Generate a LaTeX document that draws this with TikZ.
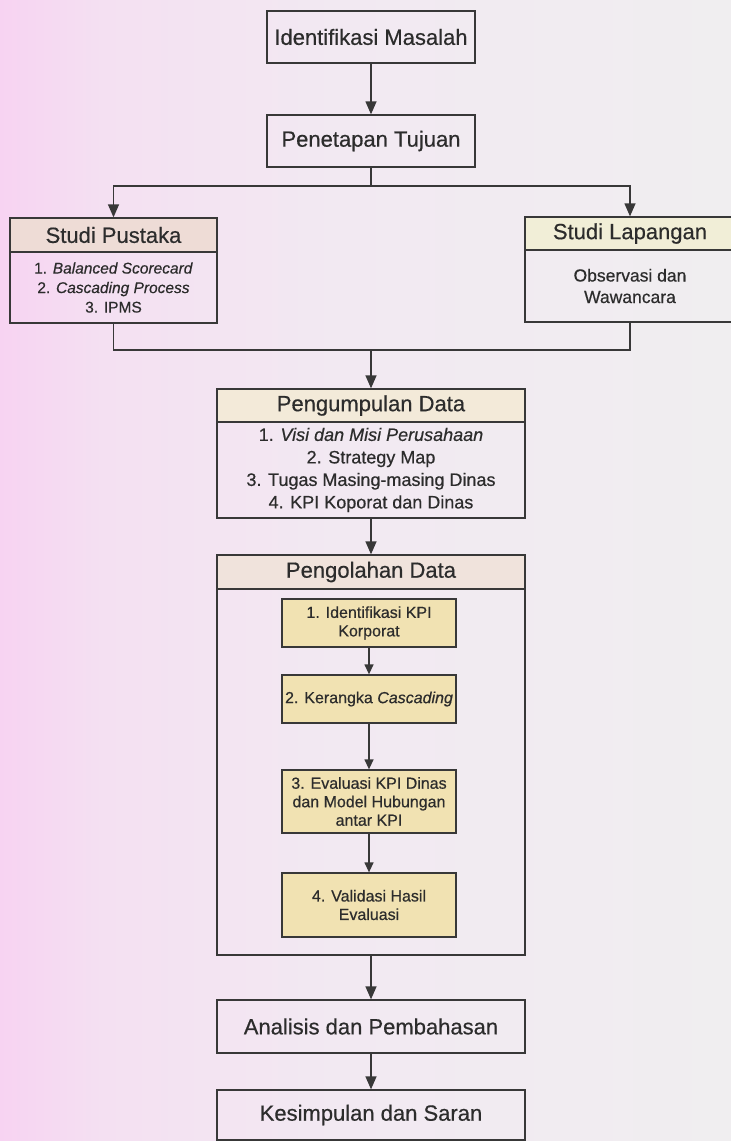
\documentclass[tikz,border=0pt]{standalone}
\usepackage{fontspec}
\setmainfont{Liberation Sans}[FakeBold=0.5]
\usetikzlibrary{arrows.meta}

% line and text colours
\definecolor{ink}{HTML}{383838}
\definecolor{txt}{HTML}{2C2C2C}
% page tint, left to right
\definecolor{bgA}{HTML}{F7D3F2}
\definecolor{bgB}{HTML}{F4E0F2}
\definecolor{bgC}{HTML}{F2E9F2}
\definecolor{bgD}{HTML}{F0EEF0}
% header and step fills
\definecolor{hdPink}{HTML}{EEDCD6}
\definecolor{hdCream}{HTML}{F1EED7}
\definecolor{hdBeige}{HTML}{F3EAD9}
\definecolor{hdRose}{HTML}{F0E3DC}
\definecolor{stepfill}{HTML}{F1E2B2}

\pgfdeclarehorizontalshading{pagetint}{100bp}{color(0bp)=(bgA); color(25bp)=(bgA); color(32bp)=(bgB); color(48bp)=(bgC); color(75bp)=(bgD); color(100bp)=(bgD)}

\begin{document}
\begin{tikzpicture}[x=1pt,y=-1pt,
  every node/.style={text=txt},
  box/.style={draw=ink, line width=1.3pt, rectangle, inner sep=0pt, align=center},
  headtext/.style={font=\fontsize{22}{24}\selectfont},
  listtext/.style={font=\fontsize{18}{22.5}\selectfont},
  pustext/.style={font=\fontsize{15.5}{19.5}\selectfont},
  obstext/.style={font=\fontsize{17.5}{21.5}\selectfont},
  steptext/.style={font=\fontsize{16}{18.5}\selectfont},
  stepbox/.style={box, fill=stepfill, steptext, minimum width=174pt},
  plain/.style={draw=ink, line width=1.3pt},
  flow/.style={plain, -{Triangle[length=13pt,width=11pt]}},
  minorflow/.style={plain, -{Triangle[length=10pt,width=9pt]}}
]
% page
\shade[shading=pagetint] (0,0) rectangle (731,1141);
\useasboundingbox (0,0) rectangle (731,1141);

% top of the flow
\node[box, headtext, minimum width=208pt, minimum height=52pt] (ident) at (371,37) {Identifikasi Masalah};
\node[box, headtext, minimum width=208pt, minimum height=52pt] (tujuan) at (371,141) {Penetapan Tujuan};

% literature and field study
\node[box, headtext, fill=hdPink, minimum width=207pt, minimum height=34pt] (pustakaH) at (113.5,235) {Studi Pustaka};
\node[box, pustext, minimum width=207pt, minimum height=71pt] (pustakaB) at (113.5,287.5)
  {1. \textit{Balanced Scorecard}\\2. \textit{Cascading Process}\\3. IPMS};
\node[box, headtext, fill=hdCream, minimum width=210pt, minimum height=33pt] (lapanganH) at (630,233.5) {Studi Lapangan};
\node[box, obstext, minimum width=210pt, minimum height=72pt] (lapanganB) at (630,286)
  {Observasi dan\\Wawancara};

% data collection
\node[box, headtext, fill=hdBeige, minimum width=308pt, minimum height=33pt] (kumpulH) at (371,405.5) {Pengumpulan Data};
\node[box, listtext, minimum width=308pt, minimum height=96pt] (kumpulB) at (371,470)
  {1. \textit{Visi dan Misi Perusahaan}\\2. Strategy Map\\3. Tugas Masing-masing Dinas\\4. KPI Koporat dan Dinas};

% data processing
\node[box, headtext, fill=hdRose, minimum width=308pt, minimum height=34pt] (olahH) at (371,572) {Pengolahan Data};
\node[box, minimum width=308pt, minimum height=366pt] (olahB) at (371,772) {};
\node[stepbox, minimum height=48pt] (s1) at (369,623) {1. Identifikasi KPI\\Korporat};
\node[stepbox, minimum height=48pt] (s2) at (369,699) {2. Kerangka \textit{Cascading}};
\node[stepbox, minimum height=63pt] (s3) at (369,801.5) {3. Evaluasi KPI Dinas\\dan Model Hubungan\\antar KPI};
\node[stepbox, minimum height=64pt] (s4) at (369,905) {4. Validasi Hasil\\Evaluasi};

% closing steps
\node[box, headtext, minimum width=308pt, minimum height=53pt] (analisis) at (371,1026.5) {Analisis dan Pembahasan};
\node[box, headtext, minimum width=308pt, minimum height=50pt] (simpul) at (371,1115) {Kesimpulan dan Saran};

% connectors
\coordinate (fork) at (371,186);
\coordinate (merge) at (371,350);
\draw[flow] (ident) -- (tujuan);
\draw[plain] (tujuan.south) -- (fork);
\draw[flow] (fork) -| (pustakaH.north);
\draw[flow] (fork) -| (lapanganH.north);
\draw[plain] (pustakaB.south) |- (merge);
\draw[plain] (lapanganB.south) |- (merge);
\draw[flow] (merge) -- (kumpulH.north);
\draw[flow] (kumpulB.south) -- (olahH.north);
\draw[minorflow] (s1) -- (s2);
\draw[minorflow] (s2) -- (s3);
\draw[minorflow] (s3) -- (s4);
\draw[flow] (olahB.south) -- (analisis.north);
\draw[flow] (analisis) -- (simpul);
\end{tikzpicture}
\end{document}
